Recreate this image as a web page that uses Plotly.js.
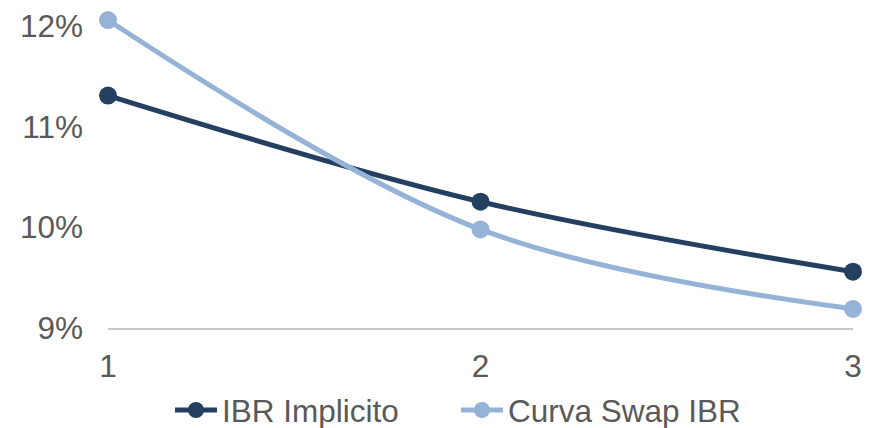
<!DOCTYPE html>
<html>
<head>
<meta charset="utf-8">
<script src="https://cdn.plot.ly/plotly-3.0.1.min.js"></script>
<style>html,body{margin:0;padding:0;background:#fff;}#chart{width:879px;height:428px;}</style>
</head>
<body>
<div id="chart"></div>
<script>
const xVals = [1, 2, 3];
const ibrImplicito = [11.31, 10.255, 9.56];
const curvaSwapIBR = [12.06, 9.98, 9.19];
const yTicks = [9, 10, 11, 12];
const yTickText = ['9%', '10%', '11%', '12%'];
const xTickText = ['1', '2', '3'];

const font = {family: 'Liberation Sans, Arial, sans-serif', color: '#595959', size: 31.5};

const traces = [
  {x: xVals, y: ibrImplicito, name: 'IBR Implicito', mode: 'lines+markers',
   line: {color: '#243F60', width: 5, shape: 'spline', smoothing: 1},
   marker: {color: '#243F60', size: 18}, cliponaxis: false},
  {x: xVals, y: curvaSwapIBR, name: 'Curva Swap IBR', mode: 'lines+markers',
   line: {color: '#95B3D7', width: 5, shape: 'spline', smoothing: 1},
   marker: {color: '#95B3D7', size: 18}, cliponaxis: false}
];

const layout = {
  width: 879, height: 428,
  margin: {l: 108, r: 26, t: 1, b: 100, autoexpand: false},
  paper_bgcolor: '#fff', plot_bgcolor: '#fff',
  font: font,
  showlegend: true,
  legend: {orientation: 'h', x: 0.0832, xanchor: 'left', yref: 'container', y: 0.042, yanchor: 'middle',
           font: font, itemwidth: 42, entrywidth: 229, entrywidthmode: 'pixels'},
  xaxis: {range: [1, 3], tickvals: xVals, ticktext: xTickText, showgrid: false, zeroline: false,
          showline: true, linecolor: '#C8C8C8', linewidth: 1.5, ticks: '', ticklabelstandoff: 10,
          tickfont: font, fixedrange: true, automargin: false},
  yaxis: {range: [9, 12.25], tickvals: yTicks, ticktext: yTickText, showgrid: false, zeroline: false,
          showline: false, ticks: '', ticklabelstandoff: 24, tickfont: font, fixedrange: true, automargin: false}
};

Plotly.newPlot('chart', traces, layout, {displayModeBar: false, staticPlot: true});
</script>
</body>
</html>
